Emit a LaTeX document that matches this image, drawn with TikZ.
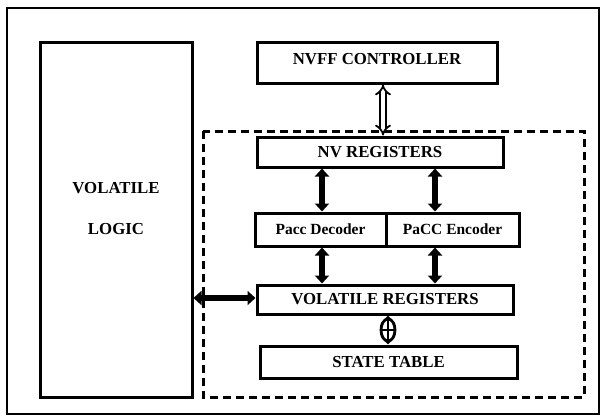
\documentclass[tikz,border=0pt]{standalone}
\usepackage{fontspec}
\setmainfont{Liberation Serif}
\usetikzlibrary{arrows.meta,shapes.geometric}
\begin{document}
\begin{tikzpicture}[x=1pt,y=-1pt,
  blk/.style={draw, line width=3pt, inner sep=0pt, font=\bfseries\fontsize{16.8}{19}\selectfont},
  sub/.style={draw, line width=3pt, inner sep=0pt, font=\bfseries\fontsize{15.5}{17}\selectfont},
  bus/.style={line width=5.5pt, {Triangle[width=14pt,length=8pt]}-{Triangle[width=14pt,length=8pt]}},
  ctrl/.style={double, line width=1.8pt, double distance=3.5pt, {Implies}-{Implies}}]
\useasboundingbox (0,0) rectangle (600,416);
% frames
\draw[line width=2.4pt] (7,8) rectangle (599,414);
\draw[line width=3pt, dash pattern=on 8pt off 5pt] (203,131) rectangle (584,397);
% blocks
\node[blk, minimum width=152pt, minimum height=355pt] (vlogic) at (116,219.5) {};
\node[font=\bfseries\fontsize{16.8}{19}\selectfont, align=center] (vltext) at (116,209) {VOLATILE\\[22pt]LOGIC};
\node[blk, minimum width=240pt, minimum height=41pt] (nvff) at (377,62.5) {\raisebox{7pt}{NVFF CONTROLLER}};
\node[blk, minimum width=246pt, minimum height=30pt] (nvreg) at (380,152) {NV REGISTERS};
\node[sub, minimum width=131pt, minimum height=33pt] (dec) at (320.5,229.5) {Pacc Decoder};
\node[sub, minimum width=133pt, minimum height=33pt] (enc) at (452.5,229.5) {PaCC Encoder};
\node[blk, minimum width=256pt, minimum height=29pt] (vreg) at (385,299.5) {VOLATILE REGISTERS};
\node[blk, minimum width=257pt, minimum height=32pt] (state) at (388.5,362) {STATE TABLE};
% connectors
\draw[ctrl] (nvff.south -| 383,0) -- (nvreg.north -| 383,0);
\draw[bus] (nvreg.south -| 322,0) -- (dec.north -| 322,0);
\draw[bus] (nvreg.south -| 435,0) -- (enc.north -| 435,0);
\draw[bus] (dec.south -| 322,0) -- (vreg.north -| 322,0);
\draw[bus] (enc.south -| 435,0) -- (vreg.north -| 435,0);
\draw[bus] (vlogic.east |- 0,298) -- (vreg.west |- 0,298);
\draw[bus] (vreg.south -| 388,0) -- (state.north -| 388,0);
\node[draw, line width=2.8pt, fill=white, ellipse, minimum width=14pt, minimum height=22pt, inner sep=0pt] (xor) at (388,330) {};
\draw[line width=2pt] (xor.north) -- (xor.south) (xor.west) -- (xor.east);
\end{tikzpicture}
\end{document}
